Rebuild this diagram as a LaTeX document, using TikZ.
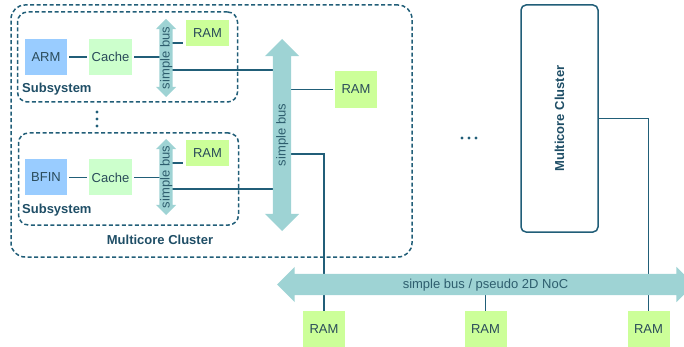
\documentclass[tikz,border=0pt]{standalone}
\usepackage{fontspec}
\setmainfont{Liberation Sans}
\usetikzlibrary{shapes.arrows,calc}
\pgfdeclarelayer{background}
\pgfsetlayers{background,main}
\definecolor{linec}{HTML}{215E78}
\definecolor{textc}{HTML}{2A4B5A}
\definecolor{labelc}{HTML}{1F4E66}
\definecolor{bustext}{HTML}{2E5E6E}
\definecolor{busfill}{HTML}{9ED3D4}
\definecolor{cpufill}{HTML}{99CCFF}
\definecolor{cachefill}{HTML}{CCFFCC}
\definecolor{ramfill}{HTML}{CCFF99}
\begin{document}
\begin{tikzpicture}[x=1pt,y=-1pt,
  font=\fontsize{13}{15}\selectfont,
  blk/.style={inner sep=0pt, text=textc, minimum width=42pt, minimum height=36pt},
  cpu/.style={blk, fill=cpufill},
  cachebox/.style={blk, fill=cachefill, minimum width=43pt},
  rambox/.style={blk, fill=ramfill},
  wire/.style={draw=linec, line width=1.6pt},
  grp/.style={draw=linec, line width=1.5pt, dash pattern=on 4pt off 2.5pt, rounded corners=#1, inner sep=0pt},
  busarrow/.style={double arrow, fill=busfill, inner sep=0pt, double arrow head extend=#1, text=bustext},
  lbl/.style={font=\fontsize{13}{15}\selectfont\bfseries, text=labelc, inner sep=0pt}]
\useasboundingbox (0,0) rectangle (684,347);

% cluster and subsystem outlines
\node[grp=14pt, minimum width=401pt, minimum height=252pt] (cluster) at (211.5,131) {};
\node[grp=10pt, minimum width=220pt, minimum height=90pt] (sub1) at (127.5,57) {};
\node[grp=10pt, minimum width=220pt, minimum height=92pt] (sub2) at (128.5,179) {};

% first subsystem
\node[cpu] (arm) at (46,57) {ARM};
\node[cachebox] (cache1) at (110.5,57) {Cache};
\node[busarrow=3.5pt, rotate=90, minimum height=78pt, text height=10pt, text depth=3pt] (bus1) at (166,58) {simple bus};
\node[rambox, minimum height=26pt, minimum width=43pt] (ram1) at (207.5,33) {RAM};
\node[lbl, anchor=base west] (sublbl1) at (22,93) {Subsystem};

% second subsystem
\node[cpu] (bfin) at (46,177.5) {BFIN};
\node[cachebox] (cache2) at (110.5,177.5) {Cache};
\node[busarrow=3.5pt, rotate=90, minimum height=76pt, text height=10pt, text depth=3pt] (bus2) at (166,177) {simple bus};
\node[rambox, minimum height=26pt, minimum width=43pt] (ram2) at (207.5,153) {RAM};
\node[lbl, anchor=base west] (sublbl2) at (22,214) {Subsystem};

% cluster bus and shared memory
\node[busarrow=8pt, rotate=90, minimum height=192pt, text height=12.5pt, text depth=5.5pt] (bigbus) at (282,135) {simple bus};
\node[rambox, minimum height=37pt] (ram3) at (356,89.5) {RAM};
\node[lbl, anchor=base] (clusterlbl) at (160,244) {Multicore Cluster};

% second cluster
\node[draw=linec, line width=1.5pt, rounded corners=5pt, minimum width=77pt, minimum height=227pt] (mc) at (559.5,118.5) {};
\node[lbl, rotate=90] (mclbl) at (mc) {Multicore Cluster};

% system interconnect and memories
\node[busarrow=7pt, minimum height=417pt, text height=14pt, text depth=7pt] (noc) at (485.5,284.5) {simple bus / pseudo 2D NoC};
\node[rambox] (ramA) at (324,329) {RAM};
\node[rambox] (ramB) at (485.5,329) {RAM};
\node[rambox] (ramC) at (648.5,329) {RAM};

% ellipses
\fill[linec] (97,112) circle (1.6pt) (97,119) circle (1.6pt) (97,126) circle (1.6pt);
\fill[linec] (462,138) circle (1.6pt) (469,138) circle (1.6pt) (476,138) circle (1.6pt);

% connectors
\begin{pgfonlayer}{background}
  \draw[wire, shorten <=2pt, shorten >=2pt] (arm) -- (cache1);
  \draw[wire, shorten <=2pt] (cache1.east) -- (cache1.east -| bus1.center);
  \draw[wire] (bus1.center |- 0,43) -- ($(ram1.west |- 0,43)+(-3,0)$);
  \draw[wire] (bus1.center |- 0,70) -- (bigbus.center |- 0,70);

  \draw[wire, shorten <=2pt, shorten >=2pt] (bfin) -- (cache2);
  \draw[wire, shorten <=2pt] (cache2.east) -- (cache2.east -| bus2.center);
  \draw[wire] (bus2.center |- 0,163) -- ($(ram2.west |- 0,163)+(-3,0)$);
  \draw[wire] (bus2.center |- 0,189) -- (bigbus.center |- 0,189);

  \draw[wire, shorten >=2pt] (bigbus.center |- ram3.west) -- (ram3.west);
  \draw[wire] (bigbus.center |- 0,154) -| (ramA.north);
  \draw[wire] (mc.east) -| (ramC.north);
  \draw[wire] (noc.center -| ramB.north) -- (ramB.north);
\end{pgfonlayer}
\end{tikzpicture}
\end{document}
